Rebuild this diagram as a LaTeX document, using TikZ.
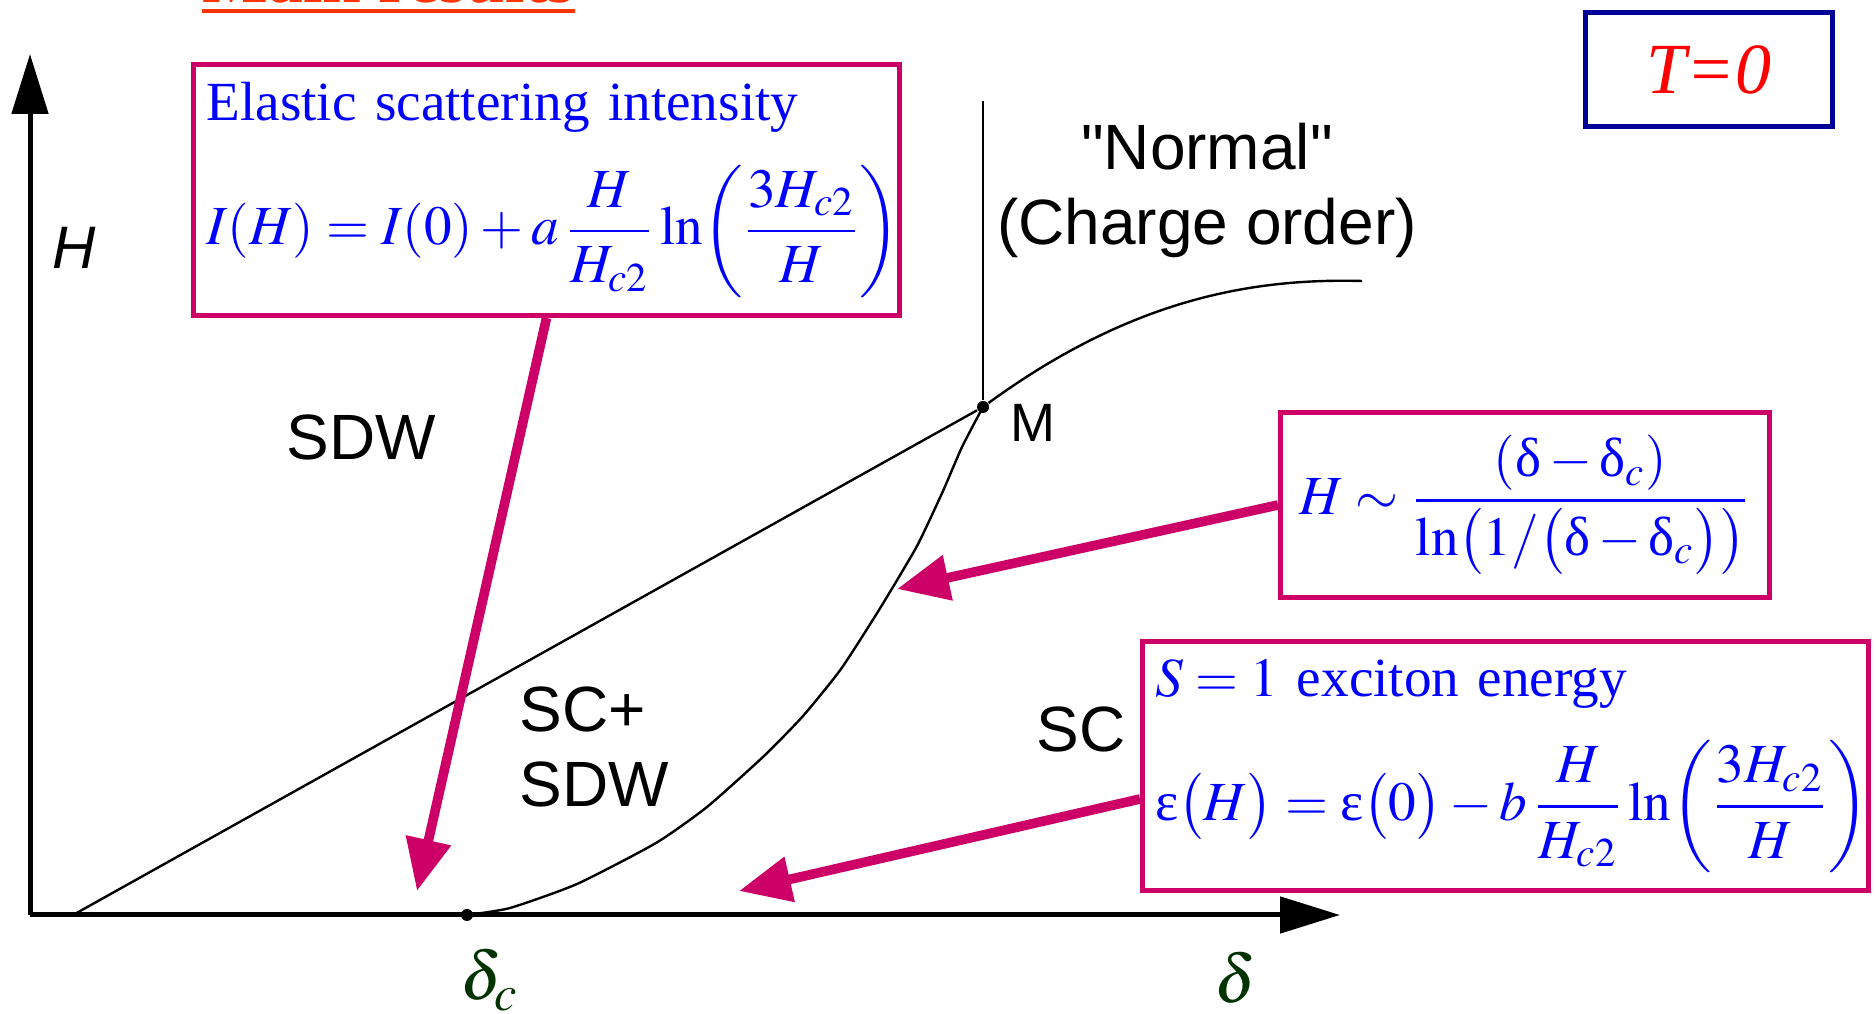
\documentclass[tikz,border=0pt]{standalone}
\usepackage{mathptmx}
\usepackage[no-math]{fontspec}
\setmainfont{Liberation Serif}
\setsansfont{Liberation Sans}[Ligatures=TeXOff]
\usetikzlibrary{arrows.meta,calc}

\definecolor{boxpink}{RGB}{204,0,102}
\definecolor{formblue}{RGB}{0,0,255}
\definecolor{framenavy}{RGB}{0,0,153}
\definecolor{titlered}{RGB}{255,51,0}
\definecolor{deltagreen}{RGB}{0,51,0}

\newcommand{\updelt}{\mbox{δ}}
\newcommand{\upeps}{\mbox{ε}}

\begin{document}
\begin{tikzpicture}[
    x=0.25pt, y=-0.25pt,
    axis/.style={-{Triangle[length=15pt,width=9pt]}, line width=1.25pt},
    bound/.style={line width=0.6pt},
    flow/.style={-{Triangle[length=13pt,width=11pt]}, line width=2.4pt, draw=boxpink},
    infobox/.style={
        draw=boxpink, line width=1.25pt,
        fill=white, inner sep=2.5pt,
        anchor=north west, align=left,
        text=formblue,
        font=\fontsize{13.8}{16}\selectfont
    },
    phase/.style={font=\sffamily\fontsize{16}{18.75}\selectfont, inner sep=0pt, align=left},
    dot/.style={circle, fill=black, inner sep=0pt, minimum size=3pt}
]
\useasboundingbox (0,0) rectangle (1876,1014);

% Title (cut at the top edge)
\node[anchor=base west, inner sep=0pt, text=titlered, font=\bfseries\fontsize{17.4}{20}\selectfont] (title) at (202,3) {Main results};
\draw[titlered, line width=1pt] ($(title.base west)+(0,8)$) -- ($(title.base east)+(0,8)$);

% Axes
\coordinate (orig) at (30,915);
\coordinate (ytip) at (30,54);
\coordinate (xtip) at (1340,915);
\draw[axis] (orig) -- (ytip);
\draw[axis] (orig) -- (xtip);
\node[font=\sffamily\itshape\fontsize{15}{18}\selectfont, inner sep=0pt] (Hlab) at (74,248) {H};
\node[anchor=base west, inner sep=0pt, text=deltagreen, font=\fontsize{17}{20}\selectfont] (dclab) at (460,1000) {$\delta_c$};
\node[anchor=base west, inner sep=0pt, text=deltagreen, font=\fontsize{17}{20}\selectfont] (dlab) at (1214,1003) {$\delta$};

% Phase boundaries
\node[dot] (dc) at (467,915) {};
\node[dot] (M) at (983,407) {};
\coordinate (lstart) at (73,915);
\coordinate (vtop) at (983,101);
\draw[bound] (lstart) -- (M);
\draw[bound] (M) -- (vtop);
\draw[bound] plot[smooth, tension=0.35] coordinates {(467,915) (510,908) (577,884) (656,843) (707,807) (764,756) (803,716) (841,669) (879,610) (917,546) (943,491) (962,447) (983,407)};
\draw[bound] (M) .. controls (1130,300) and (1250,278) .. (1362,281);

% Phase labels
\node[phase] (sdw) at (361,437) {SDW};
\node[phase, anchor=west] (mixed) at (519,747) {SC+\\SDW};
\node[phase] (sc) at (1081,729) {SC};
\node[phase, align=center] (normal) at (1207,190) {"Normal"\\(Charge order)};
\node[font=\sffamily\fontsize{13.5}{16}\selectfont, inner sep=0pt] (Mlab) at (1033,423) {M};

% Formula boxes
\node[infobox, minimum width=176.5pt, minimum height=62.75pt, text width=170pt] (elbox) at (191,62) {%
Elastic scattering intensity\\[7pt]
\mbox{$\displaystyle I(H)=I(0)+a\,\frac{H}{H_{c2}}\ln\!\left(\frac{3H_{c2}}{H}\right)$}};
\node[infobox, minimum width=122.25pt, minimum height=46.25pt, align=center] (hcbox) at (1278,410) {%
$\displaystyle H\sim\frac{(\updelt-\updelt_c)}{\ln\bigl(1/\bigl(\updelt-\updelt_c\bigr)\bigr)}$};
\node[infobox, minimum width=181.5pt, minimum height=62.25pt, text width=175pt] (exbox) at (1140,639) {%
$S=1$ exciton energy\\[7pt]
\mbox{$\displaystyle \upeps\bigl(H\bigr)=\upeps\bigl(0\bigr)-b\,\frac{H}{H_{c2}}\ln\!\left(\frac{3H_{c2}}{H}\right)$}};
\node[draw=framenavy, line width=1.25pt, fill=white, anchor=north west, minimum width=61.75pt, minimum height=28.5pt, text=red, font=\itshape\fontsize{18}{21}\selectfont] (tzero) at (1583,10) {T=0};

% Arrows
\coordinate (tipI) at (417,891);
\coordinate (tipH) at (897,589);
\coordinate (tipE) at (739,891);
\draw[flow] (elbox.south) -- (tipI);
\draw[flow] (hcbox.west) -- (tipH);
\draw[flow] ($(exbox.west)+(0,33)$) -- (tipE);

\end{tikzpicture}
\end{document}
